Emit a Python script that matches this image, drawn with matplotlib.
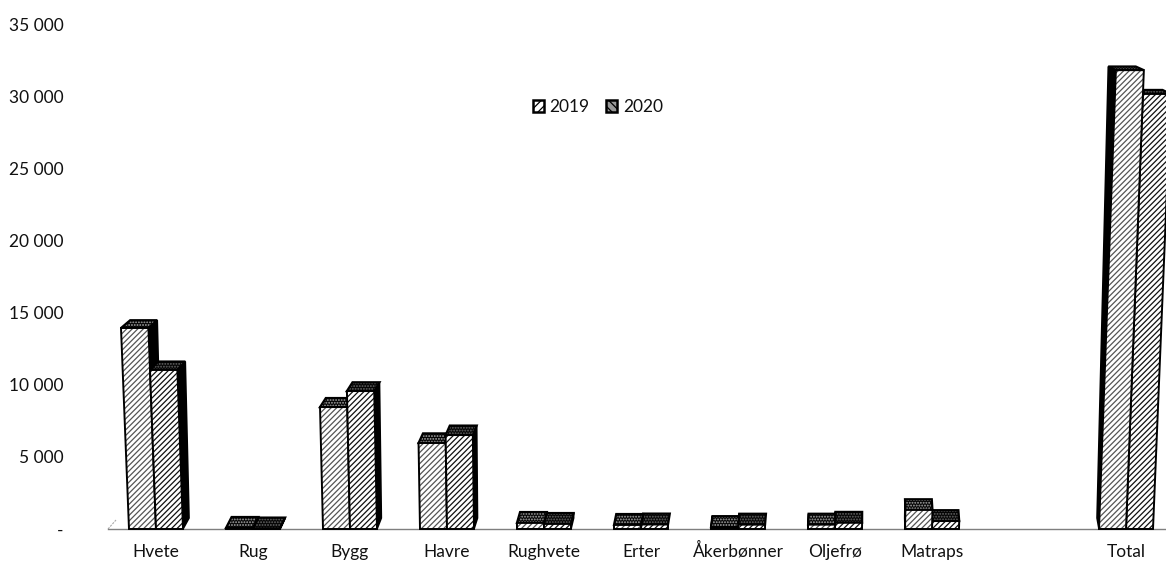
import matplotlib
matplotlib.use("Agg")
import matplotlib.pyplot as plt

categories = ["Hvete", "Rug", "Bygg", "Havre", "Rughvete", "Erter", "Åkerbønner", "Oljefrø", "Matraps", "", "Total"]
values_2019 = [13930, 70, 8450, 5960, 420, 280, 130, 300, 1320, 0, 31800]
values_2020 = [11020, 30, 9560, 6510, 350, 310, 300, 430, 550, 0, 30150]
y_ticks = [0, 5000, 10000, 15000, 20000, 25000, 30000, 35000]
y_tick_labels = ["-", "5 000", "10 000", "15 000", "20 000", "25 000", "30 000", "35 000"]

plt.rcParams["font.family"] = ["Lato", "DejaVu Sans"]
W, H = 1166, 561
L, R, TOP, BOT = 108, 1166, 24, 529
fig = plt.figure(figsize=(W / 100, H / 100), dpi=100)
ax = fig.add_axes([L / W, 1 - BOT / H, (R - L) / W, (BOT - TOP) / H])
X0, DX = 156, 97            # pixel position of category 0, pixels per category
ax.set_xlim((L - X0) / DX, (R - X0) / DX)
ax.set_ylim(0, 35000)
PY = (BOT - TOP) / 35000    # pixels per unit of value
XC = 633                    # centre of the perspective
BW = 27.0 / DX


def front(x, v):
    """Perspective of the front plane: bars widen away from the floor."""
    px = X0 + x * DX
    return (px + 7.9e-5 * (px - XC) * v * PY - X0) / DX, v


def back(x, v):
    """Same point on the back plane of the bar."""
    px = X0 + x * DX
    bx = 0.9913 * px + 7.6
    h = v * PY
    d = 11 - 0.016 * h
    return (bx + 5.3e-5 * (bx - XC) * h - X0) / DX, v + d / PY


def draw_bar(x0, v, hatch_col, top_col):
    x1 = x0 + BW
    a, b = front(x0, 0), front(x1, 0)
    c, d = front(x1, v), front(x0, v)
    ba, bb = back(x0, 0), back(x1, 0)
    bc, bd = back(x1, v), back(x0, v)
    # side face
    if X0 + x0 * DX < XC:
        side = [b, bb, bc, c]
    else:
        side = [a, ba, bd, d]
    ax.fill(*zip(*side), facecolor="black", edgecolor="black", lw=1.2, clip_on=False, zorder=3)
    # top face
    ax.fill(*zip(*[d, c, bc, bd]), facecolor="#050505", edgecolor=top_col, hatch="......",
            lw=0, clip_on=False, zorder=3)
    ax.fill(*zip(*[d, c, bc, bd]), facecolor="none", edgecolor="black", lw=1.6, clip_on=False, zorder=3)
    # front face
    ax.fill(*zip(*[a, b, c, d]), facecolor="white", edgecolor=hatch_col, hatch="//////",
            lw=0, clip_on=False, zorder=3)
    ax.fill(*zip(*[a, b, c, d]), facecolor="none", edgecolor="black", lw=1.4, clip_on=False, zorder=3)


plt.rcParams["hatch.linewidth"] = 0.9
for i, (v19, v20) in enumerate(zip(values_2019, values_2020)):
    if not categories[i]:
        continue
    left, right = (i - BW, v19, "#555555", "#aaaaaa"), (i, v20, "#111111", "#666666")
    order = [left, right] if X0 + i * DX < XC else [right, left]
    for x0, v, col, tc in order:
        draw_bar(x0, v, col, tc)

# faint floor edge at the left
ax.plot([(L - X0) / DX, (L + 8 - X0) / DX], [0, 9 / PY], color="#aaaaaa", lw=0.8, ls=(0, (2, 1)),
        clip_on=False, zorder=2)

for s in ["top", "right", "left"]:
    ax.spines[s].set_visible(False)
ax.spines["bottom"].set_color("#7f7f7f")
ax.spines["bottom"].set_linewidth(1.0)
ax.set_xticks(range(len(categories)))
ax.set_xticklabels(categories, fontsize=12.5, color="#111111", va="baseline")
ax.set_yticks(y_ticks)
ax.set_yticklabels(y_tick_labels, fontsize=12.5, color="#111111")
ax.tick_params(axis="x", length=0, pad=20)
ax.tick_params(axis="y", length=0, pad=32)

# legend
h19 = plt.Rectangle((0, 0), 1, 1, facecolor="white", edgecolor="black", hatch="////", lw=1.8)
h20 = plt.Rectangle((0, 0), 1, 1, facecolor="#999999", edgecolor="black", hatch="\\\\\\\\", lw=1.8)
ax.legend([h19, h20], ["2019", "2020"], ncol=2, frameon=False, fontsize=12.5,
          handlelength=0.62, handleheight=0.62, handletextpad=0.35, columnspacing=0.95,
          loc="center", bbox_to_anchor=((598 - L) / (R - L), (BOT - 107) / (BOT - TOP)),
          labelcolor="#111111")

fig.savefig("out.png", dpi=100)
